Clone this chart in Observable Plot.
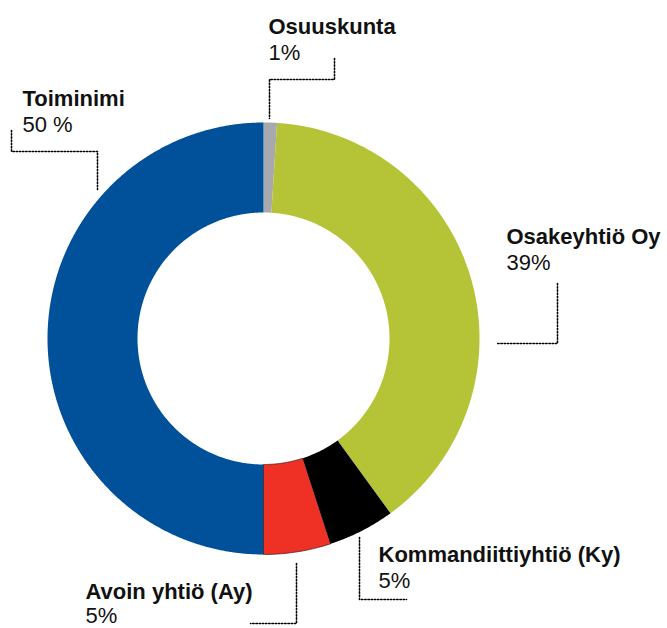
<!DOCTYPE html>
<html>
<head>
<meta charset="utf-8">
<script src="https://cdn.jsdelivr.net/npm/d3@7"></script>
<script src="https://cdn.jsdelivr.net/npm/@observablehq/plot@0.6"></script>
<style>
  html, body { margin: 0; padding: 0; background: #fff; }
  svg { display: block; }
</style>
</head>
<body>
<div id="chart"></div>
<script>
// ---- data ----
const names = ["Osuuskunta", "Osakeyhtiö Oy", "Kommandiittiyhtiö (Ky)", "Avoin yhtiö (Ay)", "Toiminimi"];
const values = [1, 39, 5, 5, 50];
const valueLabels = ["1%", "39%", "5%", "5%", "50 %"];
const colors = ["#a7a9ac", "#b5c336", "#000000", "#ee3124", "#00509a"];

// ---- layout (pixels) ----
const W = 667, H = 628;
const CX = 263, CY = 338, R_OUT = 216, R_IN = 126;
const labelPos = [ // text start x, baseline y of name line, gap to value line
  {x: 268, y: 33, gap: 26},
  {x: 506, y: 243, gap: 26},
  {x: 378, y: 561, gap: 26},
  {x: 85, y: 598, gap: 24},
  {x: 22, y: 105, gap: 26}
];
const leaders = [
  [[334, 58], [334, 79], [269, 79], [269, 118]],
  [[557, 283], [557, 343], [497, 343]],
  [[359, 537], [359, 599], [406, 599]],
  [[296, 563], [296, 623], [250, 623]],
  [[11, 130], [11, 151], [97, 151], [97, 189]]
];

// ---- geometry from values ----
const total = d3.sum(values);
const ring = [];
let acc = 0;
names.forEach((name, i) => {
  const a0 = acc / total * 2 * Math.PI;
  acc += values[i];
  const a1 = acc / total * 2 * Math.PI;
  const n = Math.max(4, Math.ceil((a1 - a0) / 0.005));
  const pts = [];
  for (let k = 0; k <= n; k++) {
    const a = a0 + (a1 - a0) * k / n;
    pts.push({name, x: CX + R_OUT * Math.sin(a), y: CY - R_OUT * Math.cos(a)});
  }
  for (let k = n; k >= 0; k--) {
    const a = a0 + (a1 - a0) * k / n;
    pts.push({name, x: CX + R_IN * Math.sin(a), y: CY - R_IN * Math.cos(a)});
  }
  ring.push(...pts);
});

const labels = names.map((name, i) => ({name, value: valueLabels[i], x: labelPos[i].x, y: labelPos[i].y, gap: labelPos[i].gap}));
const leaderPts = leaders.flatMap((pts, i) => pts.map(([x, y]) => ({id: i, x, y})));

const font = "'Liberation Sans', Arial, Helvetica, sans-serif";

const chart = Plot.plot({
  width: W,
  height: H,
  margin: 0,
  style: {fontFamily: font, background: "#fff"},
  x: {type: "identity", axis: null},
  y: {type: "identity", axis: null},
  color: {type: "ordinal", domain: names, range: colors},
  marks: [
    Plot.line(ring, {x: "x", y: "y", z: "name", fill: "name", stroke: "none", curve: "linear-closed"}),
    Plot.line(ring.filter(d => d.name === names[3]), {x: "x", y: "y", z: "name", fill: "none", stroke: "#2a1a1a", strokeWidth: 0.7, curve: "linear-closed"}),
    Plot.line(leaderPts, {x: "x", y: "y", z: "id", stroke: "#000", strokeWidth: 1.6, strokeDasharray: "1.4 1.8", curve: "linear"}),
    Plot.text(labels, {x: "x", y: "y", text: "name", textAnchor: "start", lineAnchor: "bottom", fontSize: 22, fontWeight: "bold", fill: "#111"}),
    Plot.text(labels, {x: "x", y: d => d.y + d.gap, text: "value", textAnchor: "start", lineAnchor: "bottom", fontSize: 22, fill: "#111"})
  ]
});
document.getElementById("chart").appendChild(chart);
</script>
</body>
</html>
